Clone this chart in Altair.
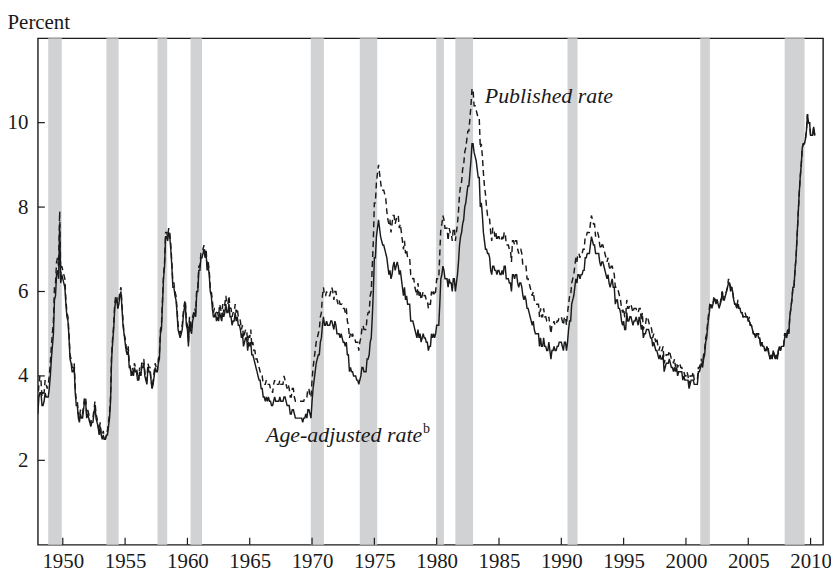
import altair as alt
import pandas as pd

START_YEAR = 1948

# Published unemployment rate, monthly, percent (one line per year)
PUBLISHED = [
    3.4, 3.8, 4.0, 3.9, 3.5, 3.6, 3.6, 3.9, 3.8, 3.7, 3.8, 4.0,  # 1948
    4.3, 4.7, 5.0, 5.3, 6.1, 6.2, 6.7, 6.8, 6.6, 7.9, 6.4, 6.6,  # 1949
    6.5, 6.4, 6.3, 5.8, 5.5, 5.4, 5.0, 4.5, 4.4, 4.2, 4.2, 4.3,  # 1950
    3.7, 3.4, 3.4, 3.1, 3.0, 3.2, 3.1, 3.1, 3.3, 3.5, 3.5, 3.1,  # 1951
    3.2, 3.1, 2.9, 2.9, 3.0, 3.0, 3.2, 3.4, 3.1, 3.0, 2.8, 2.7,  # 1952
    2.9, 2.6, 2.6, 2.7, 2.5, 2.5, 2.6, 2.7, 2.9, 3.1, 3.5, 4.5,  # 1953
    4.9, 5.2, 5.7, 5.9, 5.9, 5.6, 5.8, 6.0, 6.1, 5.7, 5.3, 5.0,  # 1954
    4.9, 4.7, 4.6, 4.7, 4.3, 4.2, 4.0, 4.2, 4.1, 4.3, 4.2, 4.2,  # 1955
    4.0, 3.9, 4.2, 4.0, 4.3, 4.3, 4.4, 4.1, 3.9, 3.9, 4.3, 4.2,  # 1956
    4.2, 3.9, 3.7, 3.9, 4.1, 4.3, 4.2, 4.1, 4.4, 4.5, 5.1, 5.2,  # 1957
    5.8, 6.4, 6.7, 7.4, 7.4, 7.3, 7.5, 7.4, 7.1, 6.7, 6.2, 6.2,  # 1958
    6.0, 5.9, 5.6, 5.2, 5.1, 5.0, 5.1, 5.2, 5.5, 5.7, 5.8, 5.3,  # 1959
    5.2, 4.8, 5.4, 5.2, 5.1, 5.4, 5.5, 5.6, 5.5, 6.1, 6.1, 6.6,  # 1960
    6.6, 6.9, 6.9, 7.0, 7.1, 6.9, 7.0, 6.6, 6.7, 6.5, 6.1, 6.0,  # 1961
    5.8, 5.5, 5.6, 5.6, 5.5, 5.5, 5.4, 5.7, 5.6, 5.4, 5.7, 5.5,  # 1962
    5.7, 5.9, 5.7, 5.7, 5.9, 5.6, 5.6, 5.4, 5.5, 5.5, 5.7, 5.5,  # 1963
    5.6, 5.4, 5.4, 5.3, 5.1, 5.2, 4.9, 5.0, 5.1, 5.1, 4.8, 5.0,  # 1964
    4.9, 5.1, 4.7, 4.8, 4.6, 4.6, 4.4, 4.4, 4.3, 4.2, 4.1, 4.0,  # 1965
    4.0, 3.8, 3.8, 3.8, 3.9, 3.8, 3.8, 3.8, 3.7, 3.7, 3.6, 3.8,  # 1966
    3.9, 3.8, 3.8, 3.8, 3.8, 3.9, 3.8, 3.8, 3.8, 4.0, 3.9, 3.8,  # 1967
    3.7, 3.8, 3.7, 3.5, 3.5, 3.7, 3.7, 3.5, 3.4, 3.4, 3.4, 3.4,  # 1968
    3.4, 3.4, 3.4, 3.4, 3.4, 3.5, 3.5, 3.5, 3.7, 3.7, 3.5, 3.5,  # 1969
    3.9, 4.2, 4.4, 4.6, 4.8, 4.9, 5.0, 5.1, 5.4, 5.5, 5.9, 6.1,  # 1970
    5.9, 5.9, 6.0, 5.9, 5.9, 5.9, 6.0, 6.1, 6.0, 5.8, 6.0, 6.0,  # 1971
    5.8, 5.7, 5.8, 5.7, 5.7, 5.7, 5.6, 5.6, 5.5, 5.6, 5.3, 5.2,  # 1972
    4.9, 5.0, 4.9, 5.0, 4.9, 4.9, 4.8, 4.8, 4.8, 4.6, 4.8, 4.9,  # 1973
    5.1, 5.2, 5.1, 5.1, 5.1, 5.4, 5.5, 5.5, 5.9, 6.0, 6.6, 7.2,  # 1974
    8.1, 8.1, 8.6, 8.8, 9.0, 8.8, 8.6, 8.4, 8.4, 8.4, 8.3, 8.2,  # 1975
    7.9, 7.7, 7.6, 7.7, 7.4, 7.6, 7.8, 7.8, 7.6, 7.7, 7.8, 7.8,  # 1976
    7.5, 7.6, 7.4, 7.2, 7.0, 7.2, 6.9, 7.0, 6.8, 6.8, 6.8, 6.4,  # 1977
    6.4, 6.3, 6.3, 6.1, 6.0, 5.9, 6.2, 5.9, 6.0, 5.8, 5.9, 6.0,  # 1978
    5.9, 5.9, 5.8, 5.8, 5.6, 5.7, 5.7, 6.0, 5.9, 6.0, 5.9, 6.0,  # 1979
    6.3, 6.3, 6.3, 6.9, 7.5, 7.6, 7.8, 7.7, 7.5, 7.5, 7.5, 7.2,  # 1980
    7.5, 7.4, 7.4, 7.2, 7.5, 7.5, 7.2, 7.4, 7.6, 7.9, 8.3, 8.5,  # 1981
    8.6, 8.9, 9.0, 9.3, 9.4, 9.6, 9.8, 9.8, 10.1, 10.4, 10.8, 10.8,  # 1982
    10.4, 10.4, 10.3, 10.2, 10.1, 10.1, 9.4, 9.5, 9.2, 8.8, 8.5, 8.3,  # 1983
    8.0, 7.8, 7.8, 7.7, 7.4, 7.2, 7.5, 7.5, 7.3, 7.4, 7.2, 7.3,  # 1984
    7.3, 7.2, 7.2, 7.3, 7.2, 7.4, 7.4, 7.1, 7.1, 7.1, 7.0, 7.0,  # 1985
    6.7, 7.2, 7.2, 7.1, 7.2, 7.2, 7.0, 6.9, 7.0, 7.0, 6.9, 6.6,  # 1986
    6.6, 6.6, 6.6, 6.3, 6.3, 6.2, 6.1, 6.0, 5.9, 6.0, 5.8, 5.7,  # 1987
    5.7, 5.7, 5.7, 5.4, 5.6, 5.4, 5.4, 5.6, 5.4, 5.4, 5.3, 5.3,  # 1988
    5.4, 5.2, 5.0, 5.2, 5.2, 5.3, 5.2, 5.2, 5.3, 5.3, 5.4, 5.4,  # 1989
    5.4, 5.3, 5.2, 5.4, 5.4, 5.2, 5.5, 5.7, 5.9, 5.9, 6.2, 6.3,  # 1990
    6.4, 6.6, 6.8, 6.7, 6.9, 6.9, 6.8, 6.9, 6.9, 7.0, 7.0, 7.3,  # 1991
    7.3, 7.4, 7.4, 7.4, 7.6, 7.8, 7.7, 7.6, 7.6, 7.3, 7.4, 7.4,  # 1992
    7.3, 7.1, 7.0, 7.1, 7.1, 7.0, 6.9, 6.8, 6.7, 6.8, 6.6, 6.5,  # 1993
    6.6, 6.6, 6.5, 6.4, 6.1, 6.1, 6.1, 6.0, 5.9, 5.8, 5.6, 5.5,  # 1994
    5.6, 5.4, 5.4, 5.8, 5.6, 5.6, 5.7, 5.7, 5.6, 5.5, 5.6, 5.6,  # 1995
    5.6, 5.5, 5.5, 5.6, 5.6, 5.3, 5.5, 5.1, 5.2, 5.2, 5.4, 5.4,  # 1996
    5.3, 5.2, 5.2, 5.1, 4.9, 5.0, 4.9, 4.8, 4.9, 4.7, 4.6, 4.7,  # 1997
    4.6, 4.6, 4.7, 4.3, 4.4, 4.5, 4.5, 4.5, 4.6, 4.5, 4.4, 4.4,  # 1998
    4.3, 4.4, 4.2, 4.3, 4.2, 4.3, 4.3, 4.2, 4.2, 4.1, 4.1, 4.0,  # 1999
    4.0, 4.1, 4.0, 3.8, 4.0, 4.0, 4.0, 4.1, 3.9, 3.9, 3.9, 3.9,  # 2000
    4.2, 4.2, 4.3, 4.4, 4.3, 4.5, 4.6, 4.9, 5.0, 5.3, 5.5, 5.7,  # 2001
    5.7, 5.7, 5.7, 5.9, 5.8, 5.8, 5.8, 5.7, 5.7, 5.7, 5.9, 6.0,  # 2002
    5.8, 5.9, 5.9, 6.0, 6.1, 6.3, 6.2, 6.1, 6.1, 6.0, 5.8, 5.7,  # 2003
    5.7, 5.6, 5.8, 5.6, 5.6, 5.6, 5.5, 5.4, 5.4, 5.5, 5.4, 5.4,  # 2004
    5.3, 5.4, 5.2, 5.2, 5.1, 5.0, 5.0, 4.9, 5.0, 5.0, 5.0, 4.9,  # 2005
    4.7, 4.8, 4.7, 4.7, 4.6, 4.6, 4.7, 4.7, 4.5, 4.4, 4.5, 4.4,  # 2006
    4.6, 4.5, 4.4, 4.5, 4.4, 4.6, 4.7, 4.6, 4.7, 4.7, 4.7, 5.0,  # 2007
    5.0, 4.9, 5.1, 5.0, 5.4, 5.6, 5.8, 6.1, 6.1, 6.5, 6.8, 7.3,  # 2008
    7.8, 8.3, 8.7, 9.0, 9.4, 9.5, 9.5, 9.6, 9.8, 10.2, 10.0, 10.0,  # 2009
    9.7, 9.7, 9.7, 9.9, 9.7,  # 2010
]

# Age-adjusted unemployment rate, monthly, percent (one line per year)
AGE_ADJUSTED = [
    3.1, 3.5, 3.6, 3.6, 3.3, 3.3, 3.4, 3.6, 3.5, 3.5, 3.5, 3.7,  # 1948
    4.0, 4.4, 4.7, 5.0, 5.8, 5.9, 6.4, 6.5, 6.3, 7.6, 6.2, 6.4,  # 1949
    6.3, 6.2, 6.1, 5.7, 5.4, 5.3, 4.9, 4.4, 4.3, 4.1, 4.1, 4.2,  # 1950
    3.6, 3.3, 3.3, 3.0, 2.9, 3.1, 3.0, 3.0, 3.2, 3.4, 3.4, 3.0,  # 1951
    3.1, 3.0, 2.9, 2.8, 2.9, 2.9, 3.1, 3.3, 3.0, 2.9, 2.8, 2.6,  # 1952
    2.8, 2.6, 2.5, 2.6, 2.5, 2.5, 2.6, 2.6, 2.8, 3.0, 3.4, 4.4,  # 1953
    4.8, 5.1, 5.6, 5.8, 5.8, 5.6, 5.7, 5.9, 6.0, 5.6, 5.2, 5.0,  # 1954
    4.8, 4.6, 4.5, 4.6, 4.2, 4.2, 4.0, 4.1, 4.0, 4.2, 4.1, 4.1,  # 1955
    3.9, 3.9, 4.1, 4.0, 4.2, 4.2, 4.3, 4.0, 3.9, 3.8, 4.2, 4.1,  # 1956
    4.1, 3.9, 3.7, 3.8, 4.0, 4.2, 4.1, 4.1, 4.3, 4.4, 5.0, 5.1,  # 1957
    5.7, 6.3, 6.6, 7.3, 7.3, 7.2, 7.4, 7.3, 7.0, 6.6, 6.1, 6.1,  # 1958
    5.9, 5.8, 5.5, 5.1, 5.0, 4.9, 5.0, 5.1, 5.4, 5.6, 5.7, 5.2,  # 1959
    5.1, 4.7, 5.3, 5.1, 5.0, 5.3, 5.4, 5.5, 5.4, 6.0, 6.0, 6.5,  # 1960
    6.5, 6.8, 6.8, 6.9, 7.0, 6.8, 6.9, 6.5, 6.6, 6.4, 6.0, 5.9,  # 1961
    5.6, 5.4, 5.4, 5.5, 5.3, 5.4, 5.3, 5.5, 5.4, 5.3, 5.5, 5.4,  # 1962
    5.5, 5.7, 5.5, 5.5, 5.7, 5.4, 5.4, 5.2, 5.3, 5.3, 5.5, 5.3,  # 1963
    5.4, 5.2, 5.2, 5.1, 4.9, 5.0, 4.7, 4.8, 4.9, 4.9, 4.6, 4.8,  # 1964
    4.7, 4.8, 4.5, 4.5, 4.4, 4.3, 4.2, 4.1, 4.0, 3.9, 3.9, 3.7,  # 1965
    3.7, 3.5, 3.5, 3.4, 3.5, 3.4, 3.5, 3.4, 3.4, 3.3, 3.3, 3.4,  # 1966
    3.5, 3.4, 3.4, 3.4, 3.4, 3.5, 3.4, 3.4, 3.4, 3.5, 3.5, 3.4,  # 1967
    3.3, 3.3, 3.3, 3.1, 3.1, 3.2, 3.2, 3.1, 3.0, 3.0, 3.0, 3.0,  # 1968
    3.0, 3.0, 3.0, 2.9, 3.0, 3.0, 3.1, 3.0, 3.2, 3.2, 3.1, 3.0,  # 1969
    3.4, 3.7, 3.9, 4.1, 4.3, 4.4, 4.5, 4.5, 4.8, 4.9, 5.2, 5.4,  # 1970
    5.2, 5.2, 5.3, 5.2, 5.2, 5.2, 5.3, 5.3, 5.2, 5.1, 5.3, 5.2,  # 1971
    5.0, 5.0, 5.0, 4.9, 5.0, 4.9, 4.8, 4.8, 4.7, 4.8, 4.5, 4.5,  # 1972
    4.1, 4.2, 4.1, 4.1, 4.0, 4.0, 4.0, 3.9, 3.9, 3.8, 3.9, 4.0,  # 1973
    4.2, 4.2, 4.1, 4.1, 4.1, 4.4, 4.4, 4.5, 4.8, 4.9, 5.4, 6.0,  # 1974
    6.8, 6.8, 7.3, 7.5, 7.7, 7.5, 7.3, 7.2, 7.1, 7.1, 7.0, 6.9,  # 1975
    6.8, 6.6, 6.4, 6.5, 6.3, 6.4, 6.6, 6.7, 6.5, 6.6, 6.7, 6.6,  # 1976
    6.4, 6.5, 6.3, 6.1, 5.9, 6.1, 5.8, 5.9, 5.7, 5.7, 5.7, 5.3,  # 1977
    5.3, 5.3, 5.2, 5.1, 5.0, 4.9, 5.1, 4.9, 5.0, 4.8, 4.9, 5.0,  # 1978
    4.9, 4.9, 4.8, 4.8, 4.6, 4.7, 4.7, 5.0, 4.9, 5.0, 4.9, 5.0,  # 1979
    5.2, 5.2, 5.2, 5.7, 6.3, 6.4, 6.6, 6.5, 6.3, 6.3, 6.3, 6.1,  # 1980
    6.3, 6.2, 6.2, 6.0, 6.3, 6.3, 6.0, 6.2, 6.4, 6.7, 7.1, 7.3,  # 1981
    7.4, 7.6, 7.7, 8.0, 8.1, 8.3, 8.5, 8.5, 8.8, 9.1, 9.5, 9.5,  # 1982
    9.3, 9.2, 9.1, 8.9, 8.7, 8.7, 8.0, 8.1, 7.8, 7.4, 7.2, 7.0,  # 1983
    7.0, 6.9, 6.9, 6.8, 6.5, 6.4, 6.6, 6.6, 6.5, 6.5, 6.4, 6.5,  # 1984
    6.5, 6.4, 6.4, 6.5, 6.4, 6.6, 6.6, 6.3, 6.3, 6.3, 6.2, 6.2,  # 1985
    6.0, 6.4, 6.4, 6.3, 6.4, 6.4, 6.2, 6.1, 6.2, 6.2, 6.1, 5.9,  # 1986
    5.8, 5.9, 5.8, 5.6, 5.6, 5.5, 5.4, 5.3, 5.2, 5.3, 5.1, 5.0,  # 1987
    5.0, 5.0, 5.0, 4.7, 4.9, 4.7, 4.7, 4.9, 4.7, 4.7, 4.6, 4.6,  # 1988
    4.8, 4.6, 4.4, 4.6, 4.6, 4.7, 4.6, 4.6, 4.7, 4.7, 4.8, 4.8,  # 1989
    4.8, 4.7, 4.6, 4.8, 4.8, 4.6, 4.8, 5.1, 5.3, 5.3, 5.7, 5.8,  # 1990
    5.9, 6.1, 6.3, 6.2, 6.4, 6.4, 6.3, 6.4, 6.4, 6.5, 6.5, 6.8,  # 1991
    6.8, 6.9, 6.9, 6.9, 7.1, 7.3, 7.2, 7.1, 7.1, 6.9, 6.9, 6.9,  # 1992
    6.9, 6.7, 6.6, 6.7, 6.7, 6.6, 6.5, 6.4, 6.3, 6.4, 6.2, 6.1,  # 1993
    6.2, 6.3, 6.1, 6.1, 5.7, 5.8, 5.8, 5.6, 5.6, 5.5, 5.3, 5.2,  # 1994
    5.3, 5.1, 5.1, 5.5, 5.3, 5.3, 5.4, 5.4, 5.3, 5.2, 5.3, 5.3,  # 1995
    5.4, 5.3, 5.2, 5.4, 5.3, 5.1, 5.2, 4.9, 5.0, 5.0, 5.1, 5.1,  # 1996
    5.1, 5.0, 4.9, 4.9, 4.7, 4.8, 4.7, 4.6, 4.6, 4.5, 4.4, 4.5,  # 1997
    4.4, 4.4, 4.5, 4.1, 4.2, 4.3, 4.3, 4.3, 4.4, 4.3, 4.2, 4.2,  # 1998
    4.1, 4.2, 4.1, 4.2, 4.0, 4.1, 4.1, 4.1, 4.1, 3.9, 4.0, 3.9,  # 1999
    3.9, 3.9, 3.9, 3.7, 3.8, 3.9, 3.9, 3.9, 3.8, 3.8, 3.8, 3.8,  # 2000
    4.1, 4.1, 4.2, 4.3, 4.2, 4.4, 4.5, 4.8, 4.9, 5.2, 5.4, 5.6,  # 2001
    5.7, 5.6, 5.7, 5.8, 5.8, 5.7, 5.8, 5.7, 5.6, 5.7, 5.8, 6.0,  # 2002
    5.8, 5.8, 5.9, 6.0, 6.1, 6.2, 6.2, 6.0, 6.1, 6.0, 5.8, 5.7,  # 2003
    5.7, 5.6, 5.7, 5.6, 5.6, 5.5, 5.5, 5.4, 5.4, 5.4, 5.4, 5.4,  # 2004
    5.3, 5.3, 5.2, 5.2, 5.1, 5.0, 5.0, 4.9, 5.0, 5.0, 4.9, 4.9,  # 2005
    4.7, 4.8, 4.7, 4.7, 4.6, 4.6, 4.7, 4.6, 4.5, 4.4, 4.5, 4.4,  # 2006
    4.6, 4.5, 4.4, 4.5, 4.4, 4.6, 4.7, 4.6, 4.7, 4.7, 4.7, 4.9,  # 2007
    5.0, 4.9, 5.1, 5.0, 5.4, 5.6, 5.8, 6.1, 6.1, 6.5, 6.8, 7.3,  # 2008
    7.8, 8.3, 8.7, 9.0, 9.4, 9.5, 9.5, 9.6, 9.8, 10.2, 10.0, 10.0,  # 2009
    9.7, 9.7, 9.7, 9.9, 9.7,  # 2010
]

# Recession periods (shaded), in fractional years
REC_START = [1948.83, 1953.50, 1957.60, 1960.25, 1969.90, 1973.83, 1979.96, 1981.50, 1990.50, 2001.15, 2007.92]
REC_END = [1949.92, 1954.48, 1958.38, 1961.17, 1970.95, 1975.23, 1980.58, 1982.92, 1991.30, 2001.92, 2009.52]

X_TICKS = [1950, 1955, 1960, 1965, 1970, 1975, 1980, 1985, 1990, 1995, 2000, 2005, 2010]
Y_TICKS = [2, 4, 6, 8, 10]

SERIES = ["Published rate", "Age-adjusted rate"]
LABEL_X = [1983.86, 1966.31]
LABEL_Y = [10.47, 2.435]
SUP_TEXT = ["b"]
SUP_X = [1978.9]
SUP_Y = [2.64]

W, H = 789, 509
FONT = "Liberation Serif"
INK = "#1a1a1a"

t_pub = [START_YEAR + i / 12 for i in range(len(PUBLISHED))]
t_adj = [START_YEAR + i / 12 for i in range(len(AGE_ADJUSTED))]
lines_df = pd.DataFrame({
    "t": t_pub + t_adj,
    "v": PUBLISHED + AGE_ADJUSTED,
    "s": [SERIES[0]] * len(PUBLISHED) + [SERIES[1]] * len(AGE_ADJUSTED),
})
rec_df = pd.DataFrame({"start": REC_START, "end": REC_END})
xt_df = pd.DataFrame({"x": X_TICKS})
yt_df = pd.DataFrame({"y": Y_TICKS})
lab_df = pd.DataFrame({"x": LABEL_X, "y": LABEL_Y, "label": SERIES})
sup_df = pd.DataFrame({"x": SUP_X, "y": SUP_Y, "label": SUP_TEXT})

xs = alt.Scale(domain=[1948, 2011], nice=False, zero=False)
ys = alt.Scale(domain=[0, 12], nice=False, zero=True)

xaxis = alt.Axis(
    values=X_TICKS, format="d", title=None, ticks=False, domain=False, grid=False,
    labelFont=FONT, labelFontSize=21, labelColor=INK, labelPadding=6,
    labelFlush=False, labelOverlap=False,
)
yaxis = alt.Axis(
    values=Y_TICKS, format="d", title="Percent", ticks=False, domain=False, grid=False,
    labelFont=FONT, labelFontSize=21, labelColor=INK, labelPadding=10,
    titleFont=FONT, titleFontSize=21, titleFontWeight="normal", titleColor=INK,
    titleAngle=0, titleAlign="left", titleBaseline="alphabetic", titleX=-31, titleY=-10,
)

rec = alt.Chart(rec_df).mark_rect(color="#d1d2d4").encode(
    x=alt.X("start:Q", scale=xs, axis=xaxis),
    x2="end:Q",
)

lines = alt.Chart(lines_df).mark_line(color=INK, strokeWidth=1.45, clip=True).encode(
    x=alt.X("t:Q", scale=xs, axis=xaxis),
    y=alt.Y("v:Q", scale=ys, axis=yaxis),
    strokeDash=alt.StrokeDash(
        "s:N",
        scale=alt.Scale(domain=SERIES, range=[[6, 4], [1, 0]]),
        legend=None,
    ),
    detail="s:N",
)

xticks = alt.Chart(xt_df).mark_rule(color=INK, strokeWidth=1.2).encode(
    x=alt.X("x:Q", scale=xs, axis=xaxis),
    y=alt.value(H),
    y2=alt.value(H - 7),
)
yticks = alt.Chart(yt_df).mark_rule(color=INK, strokeWidth=1.2).encode(
    y=alt.Y("y:Q", scale=ys, axis=yaxis),
    x=alt.value(0),
    x2=alt.value(7),
)

labels = alt.Chart(lab_df).mark_text(
    align="left", baseline="alphabetic", font=FONT, fontStyle="italic",
    fontSize=22, color=INK,
).encode(
    x=alt.X("x:Q", scale=xs, axis=xaxis),
    y=alt.Y("y:Q", scale=ys, axis=yaxis),
    text="label:N",
)
sup = alt.Chart(sup_df).mark_text(
    align="left", baseline="alphabetic", font=FONT, fontSize=14, color=INK,
).encode(
    x=alt.X("x:Q", scale=xs, axis=xaxis),
    y=alt.Y("y:Q", scale=ys, axis=yaxis),
    text="label:N",
)

chart = alt.layer(rec, lines, xticks, yticks, labels, sup).properties(
    width=W,
    height=H,
    autosize=alt.AutoSizeParams(type="none"),
    padding={"left": 30, "top": 29, "right": 8, "bottom": 29},
    background="white",
).configure_view(
    stroke=INK, strokeWidth=1.4,
)

chart.save("out.html", embed_options={"renderer": "svg", "actions": False})
